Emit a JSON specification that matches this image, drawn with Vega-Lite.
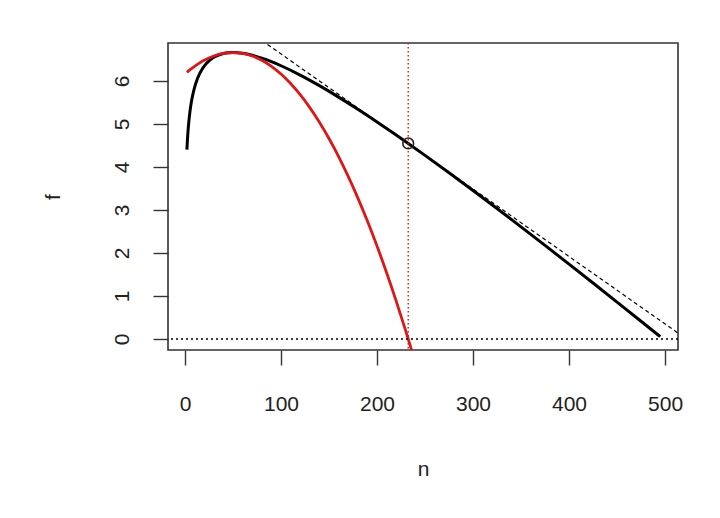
{
  "$schema": "https://vega.github.io/schema/vega-lite/v6.json",
  "autosize": "none",
  "width": 510,
  "height": 307,
  "padding": {"left": 168, "top": 43, "right": 42, "bottom": 168},
  "background": "white",
  "datasets": {
    "black": [
      {"n": 2, "f": 4.403}, {"n": 2.5, "f": 4.616}, {"n": 3, "f": 4.789},
      {"n": 3.5, "f": 4.933}, {"n": 4, "f": 5.056}, {"n": 5, "f": 5.259},
      {"n": 6, "f": 5.422}, {"n": 7, "f": 5.556}, {"n": 8, "f": 5.669},
      {"n": 10, "f": 5.853}, {"n": 12, "f": 5.995}, {"n": 15, "f": 6.158},
      {"n": 18, "f": 6.28}, {"n": 20, "f": 6.346}, {"n": 25, "f": 6.469},
      {"n": 30, "f": 6.551}, {"n": 35, "f": 6.605}, {"n": 40, "f": 6.639},
      {"n": 45, "f": 6.657}, {"n": 50, "f": 6.662}, {"n": 55, "f": 6.657},
      {"n": 60, "f": 6.644}, {"n": 70, "f": 6.598}, {"n": 80, "f": 6.532},
      {"n": 90, "f": 6.45}, {"n": 100, "f": 6.355}, {"n": 120, "f": 6.138},
      {"n": 140, "f": 5.892}, {"n": 160, "f": 5.625}, {"n": 180, "f": 5.343},
      {"n": 200, "f": 5.048}, {"n": 220, "f": 4.744}, {"n": 232.5, "f": 4.549},
      {"n": 250, "f": 4.271}, {"n": 275, "f": 3.867}, {"n": 300, "f": 3.454},
      {"n": 325, "f": 3.034}, {"n": 350, "f": 2.608}, {"n": 375, "f": 2.177},
      {"n": 400, "f": 1.741}, {"n": 425, "f": 1.302}, {"n": 450, "f": 0.859},
      {"n": 475, "f": 0.413}, {"n": 495, "f": 0.055}
    ],
    "red": [
      {"n": 2, "f": 6.201}, {"n": 5, "f": 6.257}, {"n": 10, "f": 6.342},
      {"n": 15, "f": 6.417}, {"n": 20, "f": 6.482}, {"n": 30, "f": 6.582},
      {"n": 40, "f": 6.642}, {"n": 50, "f": 6.662}, {"n": 60, "f": 6.642},
      {"n": 70, "f": 6.582}, {"n": 80, "f": 6.482}, {"n": 90, "f": 6.342},
      {"n": 100, "f": 6.162}, {"n": 110, "f": 5.942}, {"n": 120, "f": 5.682},
      {"n": 130, "f": 5.382}, {"n": 140, "f": 5.042}, {"n": 150, "f": 4.662},
      {"n": 160, "f": 4.242}, {"n": 170, "f": 3.782}, {"n": 180, "f": 3.282},
      {"n": 190, "f": 2.742}, {"n": 200, "f": 2.162}, {"n": 210, "f": 1.542},
      {"n": 220, "f": 0.882}, {"n": 230, "f": 0.182}, {"n": 236, "f": -0.257}
    ],
    "tangent": [
      {"n": 80, "f": 6.943}, {"n": 515, "f": 0.114}
    ],
    "point": [
      {"n": 232.5, "f": 4.549}
    ]
  },
  "encoding": {
    "x": {
      "field": "n",
      "type": "quantitative",
      "title": "n",
      "scale": {"domain": [-17.7, 513.5], "nice": false, "zero": false},
      "axis": {
        "values": [0, 100, 200, 300, 400, 500],
        "labelPadding": 45,
        "labelBaseline": "alphabetic",
        "titleY": 125.5,
        "titleBaseline": "alphabetic"
      }
    },
    "y": {
      "field": "f",
      "type": "quantitative",
      "title": "f",
      "scale": {"domain": [-0.256, 6.884], "nice": false, "zero": false},
      "axis": {
        "values": [0, 1, 2, 3, 4, 5, 6],
        "labelAngle": -90,
        "labelAlign": "center",
        "labelBaseline": "alphabetic",
        "labelPadding": 25,
        "titleX": -109,
        "titleBaseline": "alphabetic"
      }
    }
  },
  "layer": [
    {
      "data": {"name": "black"},
      "mark": {"type": "line", "color": "black", "strokeWidth": 3, "interpolate": "monotone", "clip": true}
    },
    {
      "data": {"name": "red"},
      "mark": {"type": "line", "color": "#e01515", "strokeWidth": 2.8, "interpolate": "monotone", "clip": true}
    },
    {
      "data": {"name": "tangent"},
      "mark": {"type": "line", "color": "black", "strokeWidth": 1.2, "strokeDash": [4, 3], "clip": true}
    },
    {
      "data": {"values": [{"f": 0}]},
      "mark": {"type": "rule", "color": "black", "strokeWidth": 1.6, "strokeDash": [2, 3]},
      "encoding": {"x": null, "y": {"field": "f", "type": "quantitative"}}
    },
    {
      "data": {"values": [{"n": 232.5}]},
      "mark": {"type": "rule", "color": "#e01515", "strokeWidth": 1.4, "strokeDash": [1.5, 2.5]},
      "encoding": {"y": null, "x": {"field": "n", "type": "quantitative"}}
    },
    {
      "data": {"name": "point"},
      "mark": {"type": "point", "shape": "circle", "filled": false, "color": "#222", "size": 115, "strokeWidth": 1.6, "opacity": 1}
    }
  ],
  "config": {
    "view": {"stroke": "#333", "strokeWidth": 1.6},
    "font": "Liberation Sans",
    "axis": {
      "grid": false,
      "domain": false,
      "ticks": true,
      "tickSize": 15,
      "tickColor": "#333",
      "tickWidth": 1.4,
      "labelFont": "Liberation Sans",
      "labelFontSize": 21,
      "labelColor": "#222",
      "titleFont": "Liberation Sans",
      "titleFontSize": 21,
      "titleFontWeight": "normal",
      "titleColor": "#222"
    }
  }
}
